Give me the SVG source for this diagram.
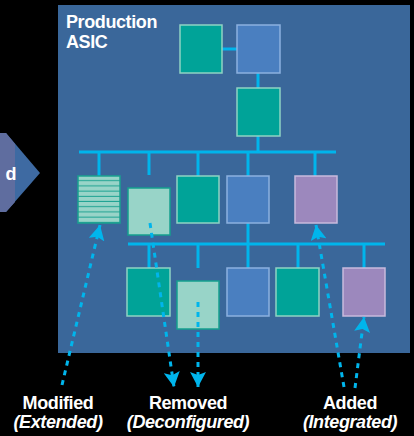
<svg xmlns="http://www.w3.org/2000/svg" width="414" height="436" viewBox="0 0 414 436">
<defs>
<style>
.lbl{font-family:"Liberation Sans",Arial,sans-serif;font-weight:bold;font-size:18px;letter-spacing:-0.4px;fill:#ffffff;text-anchor:middle}
.it{font-style:italic}
.bus{stroke:#00b5ec;stroke-width:3;fill:none}
.teal{fill:#00a398;stroke:#8fd3c3;stroke-width:1.5}
.blue{fill:#4a7fc0;stroke:#8cb1df;stroke-width:1.5}
.purple{fill:#9c88bd;stroke:#c8badd;stroke-width:1.5}
.light{fill:#98d4c8;stroke:#15a08f;stroke-width:1.5}
.dash{stroke:#00b5ec;stroke-width:3;stroke-dasharray:5 5;fill:none;marker-end:url(#ah)}
</style>
<marker id="ah" markerUnits="userSpaceOnUse" markerWidth="16" markerHeight="16" viewBox="0 0 16 16" refX="15" refY="8" orient="auto">
<path d="M0,0 L15,8 L0,16 L3,8 Z" fill="#00b5ec"/>
</marker>
<pattern id="stripes" patternUnits="userSpaceOnUse" x="78" y="176" width="42" height="5.2">
<rect width="42" height="5.2" fill="#98d4c8"/>
<rect y="4.2" width="42" height="1" fill="#1aa190"/>
</pattern>
</defs>
<rect width="414" height="436" fill="#000000"/>
<g id="left-arrow">
<polygon points="0,133 6,133 40,173 6,212 0,212" fill="#3e6aa2"/>
<polygon points="0,133 6,133 15,144 15,202 6,212 0,212" fill="#5f6d9f"/>
<text class="lbl" x="16" y="180" style="text-anchor:end">d</text>
</g>
<g id="panel">
<rect x="58" y="5" width="352" height="348" fill="#3a679a"/>
<text class="lbl" x="66" y="28" style="text-anchor:start">Production</text>
<text class="lbl" x="66" y="48" style="text-anchor:start">ASIC</text>
</g>
<g id="connectors">
<line class="bus" x1="222" y1="49" x2="237" y2="49"/>
<line class="bus" x1="258" y1="73" x2="258" y2="88"/>
<line class="bus" x1="258" y1="136" x2="258" y2="152"/>
<line class="bus" x1="79" y1="152" x2="336" y2="152"/>
<line class="bus" x1="99" y1="152" x2="99" y2="176"/>
<line class="bus" x1="149" y1="152" x2="149" y2="175"/>
<line class="bus" x1="198" y1="152" x2="198" y2="176"/>
<line class="bus" x1="248" y1="152" x2="248" y2="176"/>
<line class="bus" x1="315" y1="152" x2="315" y2="176"/>
<line class="bus" x1="248" y1="223" x2="248" y2="244"/>
<line class="bus" x1="128" y1="244" x2="385" y2="244"/>
<line class="bus" x1="149" y1="244" x2="149" y2="268"/>
<line class="bus" x1="198" y1="244" x2="198" y2="268"/>
<line class="bus" x1="248" y1="244" x2="248" y2="268"/>
<line class="bus" x1="298" y1="244" x2="298" y2="268"/>
<line class="bus" x1="364" y1="244" x2="364" y2="268"/>
</g>
<g id="n1"><rect class="teal" x="180" y="25" width="42" height="48"/></g>
<g id="n2"><rect class="blue" x="237" y="25" width="43" height="48"/></g>
<g id="n3"><rect class="teal" x="237" y="88" width="43" height="48"/></g>
<g id="n4-modified"><rect x="78" y="176" width="42" height="47" fill="url(#stripes)" stroke="#1aa190" stroke-width="1.5"/></g>
<g id="n5-removed"><rect class="light" x="128" y="188" width="42" height="47"/></g>
<g id="n6"><rect class="teal" x="177" y="176" width="42" height="47"/></g>
<g id="n7"><rect class="blue" x="227" y="176" width="42" height="47"/></g>
<g id="n8-added"><rect class="purple" x="295" y="176" width="42" height="47"/></g>
<g id="n9"><rect class="teal" x="127" y="268" width="43" height="48"/></g>
<g id="n10-removed"><rect class="light" x="177" y="281" width="42" height="48"/></g>
<g id="n11"><rect class="blue" x="227" y="268" width="42" height="48"/></g>
<g id="n12"><rect class="teal" x="276" y="268" width="43" height="48"/></g>
<g id="n13-added"><rect class="purple" x="343" y="268" width="42" height="48"/></g>
<g id="annotations">
<path class="dash" d="M62,385 L100,225"/>
<path class="dash" d="M150,223 L174,387"/>
<path class="dash" d="M198,302 L198,387"/>
<path class="dash" d="M344,387 L316,225"/>
<path class="dash" d="M355,388 L364,317"/>
</g>
<g id="labels">
<text class="lbl" x="58" y="409">Modified</text>
<text class="lbl it" x="58" y="428">(Extended)</text>
<text class="lbl" x="188" y="409">Removed</text>
<text class="lbl it" x="188" y="428">(Deconfigured)</text>
<text class="lbl" x="350" y="409">Added</text>
<text class="lbl it" x="350" y="428">(Integrated)</text>
</g>
</svg>
